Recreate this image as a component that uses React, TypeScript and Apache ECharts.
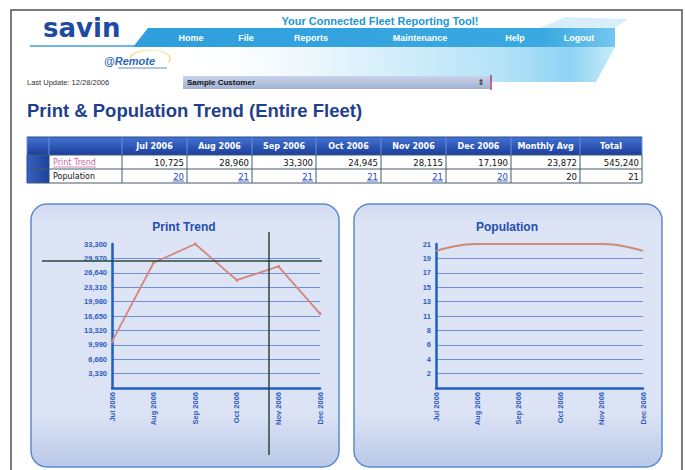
import React, { useEffect, useRef } from 'react';
import * as echarts from 'echarts';

const months = ['Jul 2006', 'Aug 2006', 'Sep 2006', 'Oct 2006', 'Nov 2006', 'Dec 2006'];
const printTrend = [10725, 28960, 33300, 24945, 28115, 17190];
const population = [20, 21, 21, 21, 21, 20];
const printAvg = 23872;
const printTotal = 545240;
const popAvg = 20;
const popTotal = 21;
const printAxisMax = 33300;
const printAxisStep = 3330;
const popAxisMax = 21;
const popAxisStep = 2.1;
const tableHeaders = [...months, 'Monthly Avg', 'Total'];
const navItems = ['Home', 'File', 'Reports', 'Maintenance', 'Help', 'Logout'];
const navX = [191, 246, 311, 420, 515, 579];

const FF = '"Liberation Sans", Arial, sans-serif';
const TF = '"DejaVu Sans", Verdana, sans-serif';

function txt(x: number, y: number, text: string, font: string, fill: string, align = 'left', z = 10): any {
  return {
    type: 'text', x, y, z,
    style: { text, font, fill, align, textAlign: align, verticalAlign: 'middle', textVerticalAlign: 'middle' },
  };
}
function ln(x1: number, y1: number, x2: number, y2: number, stroke: string, lineWidth = 1, z = 10): any {
  return { type: 'line', z, shape: { x1, y1, x2, y2 }, style: { stroke, lineWidth } };
}
const fmt = (v: number) => v.toLocaleString('en-US');

function buildGraphics(): any[] {
  const g: any[] = [];
  // page frame
  g.push({ type: 'polyline', z: 50, shape: { points: [[11, 470], [11, 10], [682, 10], [682, 470]] }, style: { stroke: '#505050', lineWidth: 1.5, fill: null } });

  // header banner
  g.push({ type: 'polygon', z: 1, shape: { points: [[540, 28], [565, 17], [628, 19], [615, 28]] }, style: { fill: 'rgba(190,228,247,0.6)' } });
  g.push({
    type: 'polygon', z: 1, shape: { points: [[170, 47], [615, 47], [596, 82], [195, 82]] },
    style: {
      fill: new echarts.graphic.LinearGradient(0, 0, 1, 0, [
        { offset: 0, color: 'rgba(255,255,255,0)' },
        { offset: 0.3, color: '#eef8fd' },
        { offset: 0.75, color: '#b3e2f7' },
        { offset: 0.9, color: '#8fd3f3' },
        { offset: 1, color: '#c9ecfa' },
      ]),
    },
  });
  g.push({
    type: 'polygon', z: 2, shape: { points: [[133, 47], [148, 28], [615, 28], [615, 47]] },
    style: {
      fill: new echarts.graphic.LinearGradient(0, 0, 1, 0, [
        { offset: 0, color: '#2e9edc' },
        { offset: 0.85, color: '#3aa9e2' },
        { offset: 1, color: '#74c6ee' },
      ]),
    },
  });
  g.push(ln(30, 46, 134, 46, '#3aa3dd', 1.5, 3));
  g.push(txt(43, 28, 'savin', `bold 26px ${TF}`, '#1d4aa2', 'left', 5));
  g.push(txt(380, 21, 'Your Connected Fleet Reporting Tool!', `bold 11px ${FF}`, '#1b96d6', 'center', 5));
  navItems.forEach((n, i) => g.push(txt(navX[i], 38, n, `bold 9px ${FF}`, '#ffffff', 'center', 5)));

  // @Remote logo
  g.push({
    type: 'arc', z: 4, x: 150, y: 59, scaleY: 0.45,
    shape: { cx: 0, cy: 0, r: 20, startAngle: (Math.PI * 185) / 180, endAngle: (Math.PI * 385) / 180, clockwise: true },
    style: { stroke: 'rgba(240,208,96,0.8)', lineWidth: 1.4, fill: null },
  });
  g.push(txt(104, 61, '@Remote', `italic bold 11px ${FF}`, '#2b68c0', 'left', 5));
  g.push(ln(118, 68, 167, 68, '#5b8ccc', 1, 5));

  g.push(txt(27, 82, 'Last Update: 12/28/2006', `7.5px ${FF}`, '#333333', 'left', 5));
  g.push({
    type: 'rect', z: 4, shape: { x: 183, y: 76, width: 307, height: 13 },
    style: {
      fill: new echarts.graphic.LinearGradient(0, 0, 0, 1, [
        { offset: 0, color: '#c8d2ea' },
        { offset: 1, color: '#a2b2d5' },
      ]),
    },
  });
  g.push(txt(187, 82.5, 'Sample Customer', `bold 8px ${FF}`, '#111111', 'left', 5));
  g.push(txt(481, 82.5, '⇕', `bold 8px ${TF}`, '#333333', 'center', 5));
  g.push(ln(491, 75, 491, 90, '#c0306a', 1.5, 5));

  // page title
  g.push(txt(27, 110, 'Print & Population Trend (Entire Fleet)', `bold 18.5px ${FF}`, '#1f3f8f', 'left', 5));

  // table
  const cols = [27, 49, 122, 187, 252, 316, 381, 446, 511, 580, 642];
  const rows = [137, 155, 169, 183];
  g.push({
    type: 'rect', z: 4, shape: { x: cols[0], y: rows[0], width: cols[10] - cols[0], height: rows[1] - rows[0] },
    style: {
      fill: new echarts.graphic.LinearGradient(0, 0, 0, 1, [
        { offset: 0, color: '#4374d2' },
        { offset: 1, color: '#1c3d9c' },
      ]),
    },
  });
  g.push({
    type: 'rect', z: 4, shape: { x: cols[0], y: rows[1], width: cols[1] - cols[0], height: rows[3] - rows[1] },
    style: {
      fill: new echarts.graphic.LinearGradient(0, 0, 1, 0, [
        { offset: 0, color: '#3862c0' },
        { offset: 1, color: '#1f409c' },
      ]),
    },
  });
  g.push({ type: 'rect', z: 4, shape: { x: cols[1], y: rows[1], width: cols[10] - cols[1], height: rows[3] - rows[1] }, style: { fill: '#ffffff' } });
  cols.forEach((c, i) => {
    g.push(ln(c, rows[0], c, rows[1], '#6c8fd8', 1, 6));
    g.push(ln(c, rows[1], c, rows[3], i <= 1 ? '#2a4a90' : '#3f5f6a', 1, 6));
  });
  rows.forEach((r, i) => g.push(ln(cols[0], r, cols[10], r, i === 0 ? '#2a4a90' : '#3f5f6a', 1, 6)));

  tableHeaders.forEach((h, i) => {
    const cx = (cols[i + 2] + cols[i + 3]) / 2;
    g.push(txt(cx, 146.5, h, `bold 8px ${TF}`, '#ffffff', 'center', 8));
  });
  g.push(txt(53, 162.5, 'Print Trend', `8px ${TF}`, '#c46aa8', 'left', 8));
  g.push(ln(53, 167, 96, 167, '#c46aa8', 0.8, 8));
  g.push(txt(53, 176.5, 'Population', `8px ${TF}`, '#111111', 'left', 8));

  const printRow = [...printTrend, printAvg, printTotal];
  const popRow = [...population, popAvg, popTotal];
  printRow.forEach((v, i) => {
    g.push(txt(cols[i + 3] - 3, 162.5, fmt(v), `8.5px ${TF}`, '#111111', 'right', 8));
  });
  popRow.forEach((v, i) => {
    const link = i < population.length;
    const right = cols[i + 3] - 3;
    g.push(txt(right, 176.5, fmt(v), `8.5px ${TF}`, link ? '#2846c8' : '#111111', 'right', 8));
    if (link) g.push(ln(right - 11, 181, right, 181, '#2846c8', 0.8, 8));
  });

  // chart panels
  const panelFill = () =>
    new echarts.graphic.LinearGradient(0, 0, 0, 1, [
      { offset: 0, color: '#d1daf1' },
      { offset: 0.08, color: '#dde4f5' },
      { offset: 0.8, color: '#dbe3f4' },
      { offset: 0.9, color: '#cad5ee' },
      { offset: 1, color: '#b9c8e8' },
    ]);
  [31, 354].forEach((x) => {
    g.push({
      type: 'rect', z: -5, shape: { x, y: 204, width: 308, height: 263, r: 16 },
      style: { fill: panelFill(), stroke: '#5a8ad0', lineWidth: 1.5 },
    });
  });
  g.push(txt(184, 227, 'Print Trend', `bold 12px ${FF}`, '#1f4fb0', 'center', 8));
  g.push(txt(507, 227, 'Population', `bold 12px ${FF}`, '#1f4fb0', 'center', 8));

  // hover crosshair on the print chart
  g.push(ln(42, 261, 322, 261, '#2a4838', 1.5, 100));
  g.push(ln(269, 232, 269, 455, '#2a4838', 1.5, 100));
  return g;
}

function axisX(gridIndex: number): any {
  return {
    gridIndex, type: 'category', data: months, boundaryGap: false, z: 10,
    axisLine: { lineStyle: { color: '#1f5ec4', width: 2.5 } },
    axisTick: { show: false },
    axisLabel: { rotate: 90, interval: 0, fontSize: 7.5, fontWeight: 'bold', color: '#2d5bbf', margin: 4, fontFamily: FF },
    splitLine: { show: false },
  };
}
function axisY(gridIndex: number, max: number, step: number, formatter: (v: number) => string): any {
  return {
    gridIndex, type: 'value', min: 0, max, interval: step, z: 10,
    axisLine: { show: true, lineStyle: { color: '#1f5ec4', width: 2.5 } },
    axisTick: { show: false },
    axisLabel: { formatter, showMinLabel: false, fontSize: 7.5, fontWeight: 'bold', color: '#2d5bbf', margin: 5, fontFamily: FF },
    splitLine: { show: true, showMinLine: false, showMaxLine: false, lineStyle: { color: '#6f8fd6', width: 1 } },
  };
}

export default function App() {
  const ref = useRef<HTMLDivElement>(null);
  useEffect(() => {
    if (!ref.current) return;
    const chart = echarts.init(ref.current, undefined, { renderer: 'svg' });
    chart.setOption({
      animation: false,
      backgroundColor: '#ffffff',
      textStyle: { fontFamily: FF },
      grid: [
        { left: 112, top: 244, width: 208, height: 144 },
        { left: 436, top: 244, width: 207, height: 144 },
      ],
      xAxis: [axisX(0), axisX(1)],
      yAxis: [
        axisY(0, printAxisMax, printAxisStep, (v: number) => fmt(v)),
        axisY(1, popAxisMax, popAxisStep, (v: number) => String(Math.round(v))),
      ],
      series: [
        {
          type: 'line', name: 'Print Trend', xAxisIndex: 0, yAxisIndex: 0, data: printTrend, z: 12,
          symbol: 'circle', symbolSize: 3,
          lineStyle: { color: '#d4877a', width: 1.8 }, itemStyle: { color: '#d4877a' },
        },
        {
          type: 'line', name: 'Population', xAxisIndex: 1, yAxisIndex: 1, data: population, z: 12,
          smooth: 0.5, showSymbol: false,
          lineStyle: { color: '#cf8a72', width: 2 }, itemStyle: { color: '#cf8a72' },
        },
      ],
      graphic: buildGraphics(),
    });
    return () => chart.dispose();
  }, []);
  return <div ref={ref} style={{ position: 'absolute', left: 0, top: 0, width: 686, height: 470 }} />;
}
